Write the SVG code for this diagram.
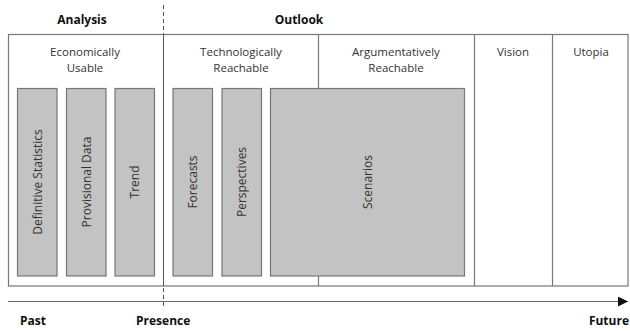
<svg xmlns="http://www.w3.org/2000/svg" width="630" height="331" viewBox="0 0 630 331">
<defs>
<marker id="ah" viewBox="0 0 10 10" refX="10" refY="5" markerWidth="10" markerHeight="10" markerUnits="userSpaceOnUse" orient="auto">
<path d="M0,0 L10,5 L0,10 z" fill="#111"/>
</marker>
</defs>
<style>
.t{font-family:"Open Sans","Noto Sans",sans-serif;font-size:11.5px;fill:#333;text-anchor:middle}
.b{font-family:"Open Sans","Noto Sans",sans-serif;font-size:12px;font-weight:bold;fill:#111}
.bar{fill:#c3c3c3;stroke:#777;stroke-width:1.2}
.col{fill:none;stroke:#777;stroke-width:1.2}
.r{font-family:"Open Sans","Noto Sans",sans-serif;font-size:12px;fill:#333;text-anchor:middle}
</style>
<rect width="630" height="331" fill="#fff"/>
<text class="b" x="82" y="24" text-anchor="middle">Analysis</text>
<text class="b" x="299" y="24" text-anchor="middle">Outlook</text>
<g id="frame">
<rect class="col" x="8.5" y="34.5" width="619.5" height="251.5"/>
<line class="col" x1="318.5" y1="34.5" x2="318.5" y2="286"/>
<line class="col" x1="474.5" y1="34.5" x2="474.5" y2="286"/>
<line class="col" x1="552.5" y1="34.5" x2="552.5" y2="286"/>
</g>
<g id="divider">
<line x1="163.5" y1="5" x2="163.5" y2="34.5" stroke="#555" stroke-width="1" stroke-dasharray="4,3"/>
<line x1="163.5" y1="34.5" x2="163.5" y2="286" stroke="#555" stroke-width="1"/>
<line x1="163.5" y1="288" x2="163.5" y2="306" stroke="#555" stroke-width="1" stroke-dasharray="4,3"/>
</g>
<g id="col-economic"><text class="t" x="85" y="56">Economically</text><text class="t" x="85" y="72">Usable</text></g>
<g id="col-tech"><text class="t" x="241" y="56">Technologically</text><text class="t" x="241" y="72">Reachable</text></g>
<g id="col-arg"><text class="t" x="396" y="56">Argumentatively</text><text class="t" x="396" y="72">Reachable</text></g>
<g id="col-vision"><text class="t" x="513" y="56">Vision</text></g>
<g id="col-utopia"><text class="t" x="591" y="56">Utopia</text></g>
<g id="n-def"><rect class="bar" x="17.5" y="88.5" width="39.5" height="187.5"/><text class="r" transform="translate(41.5,182) rotate(-90)">Definitive Statistics</text></g>
<g id="n-prov"><rect class="bar" x="66.5" y="88.5" width="39.5" height="187.5"/><text class="r" transform="translate(90.5,182) rotate(-90)">Provisional Data</text></g>
<g id="n-trend"><rect class="bar" x="115" y="88.5" width="39.5" height="187.5"/><text class="r" transform="translate(139,182) rotate(-90)">Trend</text></g>
<g id="n-fore"><rect class="bar" x="173" y="88.5" width="39.5" height="187.5"/><text class="r" transform="translate(197,182) rotate(-90)">Forecasts</text></g>
<g id="n-persp"><rect class="bar" x="222" y="88.5" width="39.5" height="187.5"/><text class="r" transform="translate(246,182) rotate(-90)">Perspectives</text></g>
<g id="n-scen"><rect class="bar" x="270.5" y="88.5" width="194" height="187.5"/><text class="r" transform="translate(371.5,182) rotate(-90)">Scenarios</text></g>
<g id="connectors">
<line x1="8" y1="301.5" x2="628" y2="301.5" stroke="#666" stroke-width="1.2" marker-end="url(#ah)"/>
</g>
<text class="b" x="20" y="325">Past</text>
<text class="b" x="136" y="325">Presence</text>
<text class="b" x="629" y="325" text-anchor="end">Future</text>
</svg>
